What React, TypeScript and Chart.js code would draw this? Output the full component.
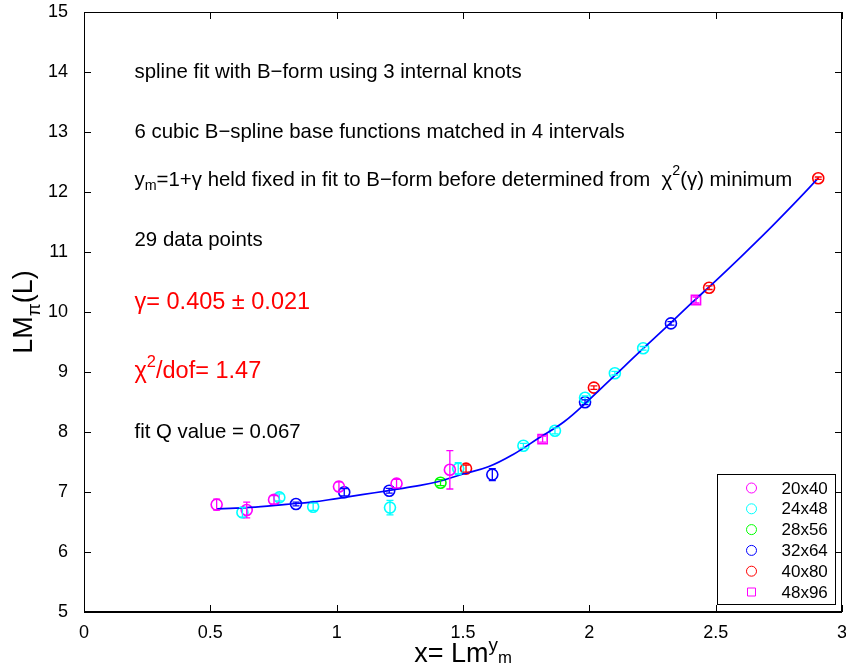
import React, { useEffect, useRef } from 'react';
import { Chart, registerables } from 'chart.js';

Chart.register(...registerables);

const FONT = '"Liberation Sans", Arial, Helvetica, sans-serif';

// Lattice volumes (legend order)
const seriesNames = ['20x40', '24x48', '28x56', '32x64', '40x80', '48x96'];
const seriesColors = ['#ff00ff', '#00ffff', '#00ff00', '#0000ff', '#ff0000', '#ff00ff'];
const seriesShapes = ['circle', 'circle', 'circle', 'circle', 'circle', 'rect'];

// x = L m^{y_m}, LM_pi(L), error
const x20 = [0.525, 0.644, 0.752, 1.009, 1.237, 1.448];
const y20 = [6.79, 6.7, 6.87, 7.09, 7.14, 7.37];
const e20 = [0.09, 0.13, 0.07, 0.08, 0.07, 0.32];

const x24 = [0.627, 0.773, 0.907, 1.211, 1.481, 1.739, 1.864, 1.983, 2.101, 2.213];
const y24 = [6.66, 6.91, 6.755, 6.74, 7.39, 7.77, 8.02, 8.57, 8.98, 9.395];
const e24 = [0.08, 0.06, 0.06, 0.12, 0.1, 0.04, 0.05, 0.03, 0.03, 0.03];

const x28 = [1.411];
const y28 = [7.155];
const e28 = [0.05];

const x32 = [0.839, 1.03, 1.208, 1.616, 1.983, 2.323];
const y32 = [6.8, 6.995, 7.02, 7.29, 8.495, 9.81];
const e32 = [0.03, 0.06, 0.04, 0.1, 0.04, 0.03];

const x40 = [1.512, 2.018, 2.474, 2.906];
const y40 = [7.39, 8.74, 10.405, 12.23];
const e40 = [0.06, 0.03, 0.03, 0.02];

const x48 = [1.815, 2.422];
const y48 = [7.88, 10.2];
const e48 = [0.05, 0.05];

// B-spline fit curve
const fitX = [0.525, 0.6, 0.7, 0.8, 0.9, 1.0, 1.1, 1.2, 1.3, 1.4, 1.5, 1.6, 1.7, 1.8, 1.9, 2.0, 2.1, 2.2, 2.3, 2.4, 2.5, 2.6, 2.7, 2.8, 2.906];
const fitY = [6.72, 6.73, 6.755, 6.795, 6.83, 6.89, 6.955, 7.02, 7.09, 7.17, 7.3, 7.42, 7.63, 7.9, 8.17, 8.54, 8.94, 9.34, 9.73, 10.13, 10.52, 10.92, 11.33, 11.76, 12.23];

// Axis ticks
const xTicks = [0, 0.5, 1, 1.5, 2, 2.5, 3];
const xTickLabels = ['0', '0.5', '1', '1.5', '2', '2.5', '3'];
const yTicks = [5, 6, 7, 8, 9, 10, 11, 12, 13, 14, 15];
const yTickLabels = ['5', '6', '7', '8', '9', '10', '11', '12', '13', '14', '15'];

type Part = { t: string; s?: 'sub' | 'sup' | 'supsub' };

const NOTE = 20.4;
const NOTE_BIG = 23.5;

// Text annotations placed in data coordinates
const notes: { x: number; y: number; size: number; color: string; parts: Part[] }[] = [
  { x: 0.2, y: 14, size: NOTE, color: '#000', parts: [{ t: 'spline fit with B\u2212form using 3 internal knots' }] },
  { x: 0.2, y: 13, size: NOTE, color: '#000', parts: [{ t: '6 cubic B\u2212spline base functions matched in 4 intervals' }] },
  {
    x: 0.2, y: 12.2, size: NOTE, color: '#000',
    parts: [
      { t: 'y' }, { t: 'm', s: 'sub' },
      { t: '=1+\u03b3 held fixed in fit to B\u2212form before determined from  \u03c7' },
      { t: '2', s: 'sup' }, { t: '(\u03b3) minimum' },
    ],
  },
  { x: 0.2, y: 11.2, size: NOTE, color: '#000', parts: [{ t: '29 data points' }] },
  { x: 0.2, y: 10.15, size: NOTE_BIG, color: '#ff0000', parts: [{ t: '\u03b3= 0.405 \u00b1 0.021' }] },
  { x: 0.2, y: 9.0, size: NOTE_BIG, color: '#ff0000', parts: [{ t: '\u03c7' }, { t: '2', s: 'sup' }, { t: '/dof= 1.47' }] },
  { x: 0.2, y: 8.0, size: NOTE, color: '#000', parts: [{ t: 'fit Q value = 0.067' }] },
];

const xTitle: Part[] = [{ t: 'x= Lm' }, { t: 'y', s: 'sup' }, { t: 'm', s: 'supsub' }];
const yTitle: Part[] = [{ t: 'LM' }, { t: '\u03c0', s: 'sub' }, { t: '(L)' }];

function partMetrics(p: Part, size: number) {
  if (p.s === 'sup') return { fs: size * 0.7, dy: -size * 0.42 };
  if (p.s === 'sub') return { fs: size * 0.7, dy: size * 0.28 };
  if (p.s === 'supsub') return { fs: size * 0.62, dy: size * 0.05 };
  return { fs: size, dy: 0 };
}

function richWidth(ctx: CanvasRenderingContext2D, parts: Part[], size: number) {
  let w = 0;
  for (const p of parts) {
    const { fs } = partMetrics(p, size);
    ctx.font = `${fs}px ${FONT}`;
    w += ctx.measureText(p.t).width;
  }
  return w;
}

function drawRich(ctx: CanvasRenderingContext2D, parts: Part[], x: number, y: number, size: number) {
  let cx = x;
  for (const p of parts) {
    const { fs, dy } = partMetrics(p, size);
    ctx.font = `${fs}px ${FONT}`;
    ctx.fillText(p.t, cx, y + dy);
    cx += ctx.measureText(p.t).width;
  }
}

const seriesX = [x20, x24, x28, x32, x40, x48];
const seriesY = [y20, y24, y28, y32, y40, y48];
const seriesE = [e20, e24, e28, e32, e40, e48];

const errorBars = {
  id: 'errorBars',
  afterDatasetsDraw(chart: any) {
    const { ctx, scales } = chart;
    ctx.save();
    chart.data.datasets.forEach((ds: any) => {
      if (!ds.errors) return;
      ctx.strokeStyle = ds.borderColor;
      ctx.lineWidth = 1.3;
      ds.data.forEach((pt: any, i: number) => {
        const e = ds.errors[i];
        const px = scales.x.getPixelForValue(pt.x);
        const top = scales.y.getPixelForValue(pt.y + e);
        const bot = scales.y.getPixelForValue(pt.y - e);
        const cap = 3.5;
        ctx.beginPath();
        ctx.moveTo(px, top);
        ctx.lineTo(px, bot);
        ctx.moveTo(px - cap, top);
        ctx.lineTo(px + cap, top);
        ctx.moveTo(px - cap, bot);
        ctx.lineTo(px + cap, bot);
        ctx.stroke();
      });
    });
    ctx.restore();
  },
};

const frame = {
  id: 'frame',
  afterDraw(chart: any) {
    const { ctx, chartArea: a, scales } = chart;
    ctx.save();
    ctx.strokeStyle = '#000';
    ctx.lineWidth = 1;
    const tl = 7;
    ctx.beginPath();
    xTicks.forEach((v) => {
      const px = Math.round(scales.x.getPixelForValue(v)) + 0.5;
      ctx.moveTo(px, a.bottom);
      ctx.lineTo(px, a.bottom - tl);
      ctx.moveTo(px, a.top);
      ctx.lineTo(px, a.top + tl);
    });
    yTicks.forEach((v) => {
      const py = Math.round(scales.y.getPixelForValue(v)) + 0.5;
      ctx.moveTo(a.left, py);
      ctx.lineTo(a.left + tl, py);
      ctx.moveTo(a.right, py);
      ctx.lineTo(a.right - tl, py);
    });
    ctx.stroke();

    // annotations
    ctx.textAlign = 'left';
    ctx.textBaseline = 'middle';
    notes.forEach((n) => {
      ctx.fillStyle = n.color;
      drawRich(ctx, n.parts, scales.x.getPixelForValue(n.x), scales.y.getPixelForValue(n.y), n.size);
    });

    // legend
    const bw = 118;
    const bh = 130;
    const bx = Math.round(a.right - 7 - bw) + 0.5;
    const by = Math.round(a.bottom - 8 - bh) + 0.5;
    ctx.fillStyle = '#fff';
    ctx.fillRect(bx, by, bw, bh);
    ctx.strokeStyle = '#000';
    ctx.lineWidth = 1;
    ctx.strokeRect(bx, by, bw, bh);
    seriesNames.forEach((name, i) => {
      const cy = by + 13.5 + i * 20.8;
      const mx = bx + 34;
      ctx.strokeStyle = seriesColors[i];
      ctx.lineWidth = 1;
      ctx.beginPath();
      if (seriesShapes[i] === 'rect') {
        ctx.rect(mx - 4, cy - 4, 8, 8);
      } else {
        ctx.arc(mx, cy, 5, 0, Math.PI * 2);
      }
      ctx.stroke();
      ctx.fillStyle = '#000';
      ctx.font = `17px ${FONT}`;
      ctx.textBaseline = 'middle';
      ctx.fillText(name, bx + 64, cy + 1);
    });

    // axis frame (bottom heavier)
    ctx.strokeStyle = '#000';
    ctx.lineWidth = 1;
    ctx.beginPath();
    ctx.moveTo(a.left + 0.5, a.bottom);
    ctx.lineTo(a.left + 0.5, a.top + 0.5);
    ctx.lineTo(a.right - 0.5, a.top + 0.5);
    ctx.lineTo(a.right - 0.5, a.bottom);
    ctx.stroke();
    ctx.lineWidth = 2;
    ctx.beginPath();
    ctx.moveTo(a.left, a.bottom);
    ctx.lineTo(a.right, a.bottom);
    ctx.stroke();

    // axis titles
    ctx.fillStyle = '#000';
    ctx.textBaseline = 'alphabetic';
    const xs = 27;
    const xw = richWidth(ctx, xTitle, xs);
    drawRich(ctx, xTitle, scales.x.getPixelForValue(1.5) - xw / 2, 662, xs);

    const ys = 27;
    const yw = richWidth(ctx, yTitle, ys);
    ctx.translate(32, scales.y.getPixelForValue(10));
    ctx.rotate(-Math.PI / 2);
    drawRich(ctx, yTitle, -yw / 2, 0, ys);
    ctx.restore();
  },
};

export default function App() {
  const ref = useRef<HTMLCanvasElement | null>(null);

  useEffect(() => {
    document.body.style.margin = '0';
    const canvas = ref.current;
    if (!canvas) return;

    const scatterSets = seriesNames.map((name, i) => ({
      type: 'scatter' as const,
      label: name,
      data: seriesX[i].map((x, j) => ({ x, y: seriesY[i][j] })),
      errors: seriesE[i],
      borderColor: seriesColors[i],
      backgroundColor: 'rgba(0,0,0,0)',
      pointStyle: seriesShapes[i],
      pointRadius: seriesShapes[i] === 'rect' ? 6.5 : 5.5,
      pointBorderWidth: 1.6,
      showLine: false,
      order: 2,
    }));

    const chart = new Chart(canvas, {
      type: 'scatter',
      data: {
        datasets: [
          {
            type: 'line' as const,
            label: 'fit',
            data: fitX.map((x, j) => ({ x, y: fitY[j] })),
            borderColor: '#0000ff',
            borderWidth: 1.7,
            pointRadius: 0,
            fill: false,
            tension: 0.4,
            order: 1,
          },
          ...scatterSets,
        ] as any,
      },
      options: {
        animation: false,
        responsive: false,
        events: [],
        layout: { autoPadding: false, padding: { left: 0, right: 4, top: 12, bottom: 0 } },
        plugins: {
          legend: { display: false },
          tooltip: { enabled: false },
        },
        scales: {
          x: {
            type: 'linear',
            min: 0,
            max: 3,
            afterBuildTicks: (s: any) => {
              s.ticks = xTicks.map((v) => ({ value: v }));
            },
            afterFit: (s: any) => {
              s.height = 58;
              s.paddingLeft = 0;
              s.paddingRight = 0;
            },
            ticks: {
              autoSkip: false,
              maxRotation: 0,
              padding: 2,
              color: '#000',
              font: { family: FONT, size: 18 },
              callback: (v: any) => xTickLabels[xTicks.indexOf(Number(v))] ?? '',
            },
            grid: { display: false },
            border: { display: false },
          },
          y: {
            type: 'linear',
            min: 5,
            max: 15,
            afterBuildTicks: (s: any) => {
              s.ticks = yTicks.map((v) => ({ value: v }));
            },
            afterFit: (s: any) => {
              s.width = 84;
              s.paddingTop = 0;
              s.paddingBottom = 0;
            },
            ticks: {
              autoSkip: false,
              padding: 8,
              color: '#000',
              font: { family: FONT, size: 18 },
              callback: (v: any) => yTickLabels[yTicks.indexOf(Number(v))] ?? '',
            },
            grid: { display: false },
            border: { display: false },
          },
        },
      } as any,
      plugins: [errorBars, frame],
    });

    return () => chart.destroy();
  }, []);

  return (
    <div style={{ width: 846, height: 670, background: '#fff' }}>
      <canvas ref={ref} width={846} height={670} style={{ display: 'block' }} />
    </div>
  );
}
